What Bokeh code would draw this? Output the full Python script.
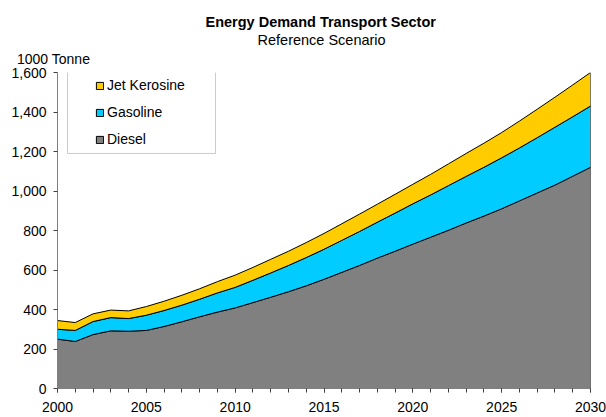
from bokeh.plotting import figure
from bokeh.models import (Legend, LegendItem, Title, LinearAxis, FixedTicker, BoxAnnotation,
                          SingleIntervalTicker, NumeralTickFormatter, Range1d)
from bokeh.embed import file_html
from bokeh.resources import INLINE

years = list(range(2000, 2031))
diesel = [250, 238, 273, 292, 290, 294, 314, 338, 363, 387, 408, 435, 462, 490, 520, 553,
          588, 623, 660, 695, 731, 766, 801, 838, 873, 910, 950, 990, 1030, 1075, 1120]
gasoline = [50, 56, 66, 67, 64, 77, 81, 84, 89, 97, 104, 113, 123, 133, 143, 152,
            162, 172, 182, 193, 204, 214, 226, 236, 247, 258, 268, 280, 293, 301, 310]
jet_kerosine = [44, 40, 39, 38, 39, 44, 47, 50, 53, 57, 62, 65, 69, 72, 76, 80,
                84, 88, 91, 95, 99, 104, 110, 116, 122, 128, 136, 144, 152, 161, 170]
series_names = ["Diesel", "Gasoline", "Jet Kerosine"]
series_colors = ["#808080", "#00CCFF", "#FFCC00"]
unit_text = "1000 Tonne"
title_text = "Energy Demand Transport Sector"
subtitle_text = "Reference Scenario"

FONT = "Liberation Sans"

p = figure(width=606, height=417, output_backend="svg", toolbar_location=None,
           x_range=Range1d(years[0], years[-1]), y_range=Range1d(0, 1600),
           min_border_left=57, min_border_right=16, min_border_top=72, min_border_bottom=29)
p.outline_line_color = None
p.xgrid.visible = False
p.ygrid.visible = False
p.background_fill_color = "white"

renderers = {}
bottom = [0] * len(years)
for name, vals, col in zip(series_names, [diesel, gasoline, jet_kerosine], series_colors):
    top = [b + v for b, v in zip(bottom, vals)]
    xs = years + years[::-1]
    ys = top + bottom[::-1]
    r = p.patch(xs, ys, fill_color=col, line_color="black", line_width=1)
    renderers[name] = r
    bottom = top

# axes
p.xaxis.ticker = SingleIntervalTicker(interval=5, num_minor_ticks=5)
p.yaxis.ticker = SingleIntervalTicker(interval=200, num_minor_ticks=0)
p.yaxis.formatter = NumeralTickFormatter(format="0,0")
for ax in (p.xaxis, p.yaxis):
    ax.axis_line_color = "#808080"
    ax.major_tick_line_color = "#404040"
    ax.minor_tick_line_color = "#404040"
    ax.major_tick_in = 0
    ax.major_tick_out = 4
    ax.minor_tick_in = 0
    ax.minor_tick_out = 4
    ax.major_label_text_font = FONT
    ax.major_label_text_font_size = "14px"
    ax.major_label_text_color = "black"
p.yaxis.major_label_standoff = 7
p.xaxis.major_label_standoff = 9

# unit text shown above the value axis (an unlined axis above the plot carrying one label)
unit_axis = LinearAxis(ticker=FixedTicker(ticks=[years[0]]),
                       major_label_overrides={years[0]: unit_text + "\u00a0\u00a0"},
                       axis_line_color=None, major_tick_line_color=None,
                       minor_tick_line_color=None, major_tick_in=0, major_tick_out=0,
                       minor_tick_in=0, minor_tick_out=0, major_label_standoff=6,
                       major_label_text_font=FONT, major_label_text_font_size="14px",
                       major_label_text_color="black")
p.add_layout(unit_axis, "above")

# titles (stacked above the unit axis)
p.add_layout(Title(text=subtitle_text, align="left", offset=200, standoff=0,
                   text_font=FONT, text_font_size="14.5px", text_font_style="normal",
                   text_color="black", text_line_height=0.8), "above")
p.add_layout(Title(text=title_text, align="left", offset=148, standoff=0,
                   text_font=FONT, text_font_size="14.5px", text_font_style="bold",
                   text_color="black"), "above")

# legend box
p.add_layout(BoxAnnotation(left=10, right=158, bottom=235, top=318,
                           left_units="screen", right_units="screen",
                           bottom_units="screen", top_units="screen",
                           fill_color="white", fill_alpha=1.0,
                           line_color="#555555", line_width=1))
legend = Legend(items=[LegendItem(label=n, renderers=[renderers[n]]) for n in series_names[::-1]],
                location=(38, 239), padding=0, margin=0, spacing=7,
                glyph_width=9, glyph_height=9, label_height=20, label_standoff=3,
                label_text_font=FONT, label_text_font_size="14px", label_text_color="black",
                border_line_alpha=0, background_fill_alpha=0)
p.add_layout(legend)

open("out.html", "w").write(file_html(p, INLINE))
